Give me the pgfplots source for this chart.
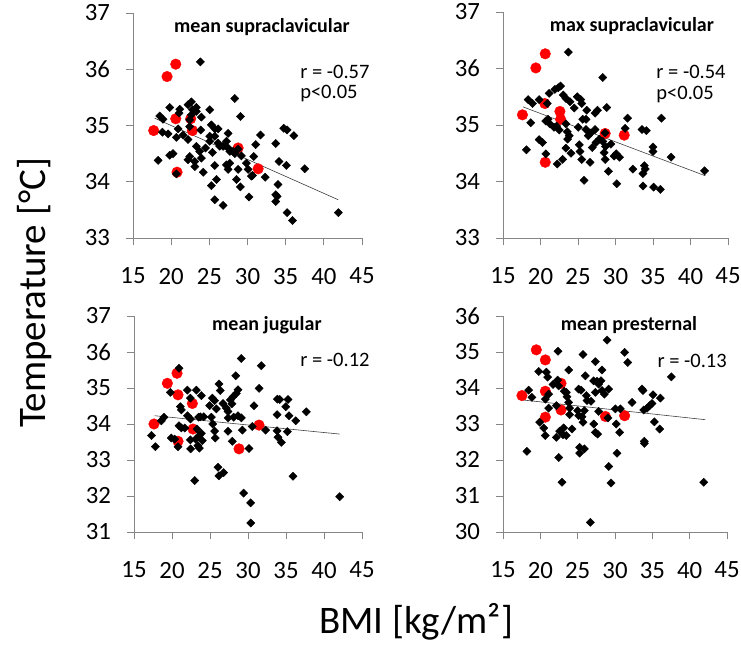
\documentclass[border=0pt]{standalone}
\usepackage{fontspec}
\setmainfont{Carlito}
\usepackage{pgfplots}
\pgfplotsset{compat=1.18}
\definecolor{axgray}{RGB}{134,134,134}
\definecolor{ptred}{RGB}{255,0,0}
\pgfplotsset{
  panel/.style={
    scale only axis, anchor=south west, clip=false,
    xmin=15, xmax=45, xtick={15,20,...,45},
    axis x line*=bottom, axis y line*=left,
    axis line style={axgray, line width=0.8pt, -},
    tick style={axgray, line width=0.8pt},
    tick align=outside, major tick length=7.5pt,
    ticklabel style={font=\fontsize{24.8}{26}\selectfont, text=black},
    xticklabel style={yshift=-19pt},
    yticklabel style={xshift=-12pt},
    /pgf/number format/assume math mode=true,
  },
  diam/.style={only marks, black, mark=square*, mark size=2.9pt,
    mark options={rotate=45, fill=black, draw=black}},
  redc/.style={only marks, ptred, mark=*, mark size=5.3pt,
    mark options={fill=ptred, draw=ptred}},
  trend/.style={no marks, black!75, line width=0.6pt},
}
\tikzset{
  ptitle/.style={font=\bfseries\fontsize{20}{22}\selectfont},
  rtext/.style={font=\fontsize{20.5}{22}\selectfont, anchor=west},
}
\begin{document}
\begin{tikzpicture}
\useasboundingbox (0,0) rectangle (741pt,650pt);

% mean supraclavicular
\begin{axis}[panel, at={(133pt,412pt)}, width=229pt, height=225pt,
  ymin=33, ymax=37, ytick={33,...,37}]
\addplot[redc] coordinates {(20.6,36.09)(19.46,35.87)(20.6,35.12)(22.56,35.12)(17.71,34.91)
  (22.78,34.91)(28.77,34.6)(31.39,34.23)(20.77,34.17)};
\addplot[diam] coordinates {
  (23.83,36.13)(28.33,35.48)(19.81,35.32)(21.12,35.29)(22.21,35.37)(22.65,35.42)(23.3,35.32)
  (21.03,35.22)(25.05,35.28)(23.96,35.15)(18.5,35.17)(18.93,35.11)(29.07,35.16)(18.85,34.88)
  (20.9,34.94)(21.56,34.83)(22.43,34.98)(23.87,34.92)(25.27,35.01)(25.71,34.94)(26.14,34.94)
  (25.05,34.81)(25.71,34.81)(20.68,34.79)(22.21,34.75)(23.3,34.63)(23.74,34.54)(23.96,34.42)
  (23.1,34.36)(22.43,34.45)(23.1,34.27)(24.2,34.17)(22.21,34.39)(18.28,34.38)(19.81,34.47)
  (20.24,34.5)(20.68,34.14)(25.05,34.72)(26.14,34.69)(26.36,34.63)(26.8,34.63)(27.24,34.72)
  (27.46,34.6)(27.68,34.54)(28.11,34.54)(28.33,34.5)(28.77,34.58)(27.46,34.86)(25.4,34.52)
  (25.71,34.29)(27.24,34.3)(27.46,34.22)(28.77,34.22)(29.2,34.46)(29.86,34.33)(30.08,34.22)
  (30.65,34.11)(30.5,34.1)(30.82,34.45)(31.08,34.66)(31.7,34.83)(32.31,34.08)(33.71,34.68)
  (34.14,34.36)(35.1,34.29)(34.75,34.95)(35.19,34.92)(36.07,34.82)(34.0,33.95)(33.7,33.77)
  (33.88,33.74)(33.7,33.65)(37.5,34.23)(35.19,33.45)(35.9,33.31)(41.9,33.45)(25.27,33.93)
  (25.93,34.04)(25.71,33.68)(26.8,33.58)(28.55,34.04)(29.07,33.91)(30.2,33.73)(27.68,34.33)
  (22.65,35.19)(22.8,35.28)(23.3,35.25)(22.43,35.1)(19.6,34.85)(24.5,34.6)};
\addplot[trend] coordinates {(17.84,35.13)(41.88,33.68)};
\node[ptitle] at (rel axis cs:0.563,0.938) {mean supraclavicular};
\node[rtext] at (rel axis cs:0.715,0.738) {r = -0.57};
\node[rtext] at (rel axis cs:0.715,0.64) {p<0.05};
\end{axis}

% max supraclavicular
\begin{axis}[panel, at={(503pt,412pt)}, width=225pt, height=226pt,
  ymin=33, ymax=37, ytick={33,...,37}]
\addplot[redc] coordinates {(20.63,36.26)(19.38,36.01)(20.58,35.38)(22.59,35.24)(22.68,35.1)
  (17.59,35.18)(28.62,34.85)(31.16,34.82)(20.63,34.34)};
\addplot[diam] coordinates {
  (23.71,36.29)(28.3,35.84)(18.35,35.45)(18.93,35.38)(19.82,35.45)(20.89,35.38)(21.16,35.56)
  (21.92,35.63)(22.37,35.66)(22.68,35.69)(23.04,35.53)(23.39,35.47)(23.93,35.41)(24.91,35.5)
  (25.36,35.45)(25.5,35.38)(25.63,35.1)(26.07,35.1)(26.16,35.26)(27.28,35.21)(27.59,35.26)
  (28.84,35.31)(31.61,35.12)(36.12,35.12)(18.71,35.04)(20.71,35.07)(21.25,35.02)(21.79,34.96)
  (22.14,34.98)(22.5,34.91)(23.39,35.02)(23.57,34.88)(23.84,34.81)(23.62,34.75)(25.04,34.96)
  (26.07,34.92)(26.38,34.81)(26.7,34.86)(27.41,34.69)(27.86,34.75)(28.3,34.71)(28.66,34.62)
  (27.28,34.92)(18.13,34.56)(19.82,34.74)(20.27,34.69)(20.71,34.49)(22.23,34.31)(22.95,34.39)
  (23.39,34.59)(24.06,34.5)(25.18,34.65)(25.27,34.53)(25.5,34.39)(26.61,34.34)(25.8,34.02)
  (28.48,34.51)(28.62,34.39)(29.06,34.18)(29.38,34.66)(29.82,34.45)(30.09,34.49)(30.54,34.43)
  (30.18,33.96)(31.29,34.94)(32.32,34.22)(33.53,34.92)(34.11,34.9)(35.0,34.61)(35.0,34.53)
  (33.84,34.28)(33.97,34.22)(33.66,34.14)(33.66,33.92)(35.09,33.9)(35.98,33.86)(37.41,34.43)
  (41.88,34.19)(28.62,34.86)(24.5,35.3)(26.9,34.6)(21.0,35.1)};
\addplot[trend] coordinates {(17.68,35.32)(42.0,34.1)};
\node[ptitle] at (rel axis cs:0.573,0.938) {max supraclavicular};
\node[rtext] at (rel axis cs:0.666,0.735) {r = -0.54};
\node[rtext] at (rel axis cs:0.666,0.637) {p<0.05};
\end{axis}

% mean jugular
\begin{axis}[panel, at={(134pt,118pt)}, width=228pt, height=216pt,
  ymin=31, ymax=37, ytick={31,...,37}]
\addplot[redc] coordinates {(20.66,35.41)(19.39,35.13)(20.79,34.81)(22.68,34.57)(17.63,34.0)
  (22.76,33.86)(20.79,33.52)(31.45,33.97)(28.82,33.31)};
\addplot[diam] coordinates {
  (29.12,35.82)(31.75,35.62)(20.92,35.55)(28.38,35.34)(26.18,35.11)(26.36,34.93)(28.68,34.95)
  (31.45,34.99)(19.78,34.88)(22.02,34.94)(23.2,34.94)(22.41,34.72)(23.86,34.79)(25.31,34.72)
  (25.61,34.65)(24.96,34.51)(25.83,34.42)(26.71,34.57)(27.15,34.44)(27.37,34.35)(27.68,34.67)
  (28.03,34.76)(28.46,34.85)(27.89,34.56)(21.1,34.48)(21.23,34.39)(22.04,34.23)(22.43,34.14)
  (23.51,34.19)(23.73,34.2)(24.17,34.2)(25.18,34.19)(25.36,34.0)(27.39,34.17)(28.12,34.19)
  (28.68,34.23)(29.12,34.17)(30.79,34.51)(33.86,34.69)(34.17,34.68)(35.26,34.68)(34.96,34.48)
  (33.82,34.26)(35.39,34.23)(36.27,34.09)(37.68,34.34)(18.6,34.09)(18.95,34.19)(17.3,33.68)
  (17.82,33.37)(19.9,33.61)(20.35,33.58)(20.79,33.37)(20.92,33.95)(21.23,33.89)(21.67,33.89)
  (22.41,33.56)(22.45,33.31)(23.11,33.58)(23.29,33.86)(23.6,33.68)(23.86,33.74)(23.99,33.54)
  (23.4,33.4)(23.6,33.33)(25.61,33.8)(25.7,33.61)(27.37,33.8)(27.94,33.52)(29.25,33.83)
  (30.13,33.32)(30.57,33.93)(32.32,33.83)(33.82,33.81)(33.95,33.63)(34.39,33.49)(35.18,33.79)
  (22.98,32.43)(26.05,32.8)(26.18,32.56)(26.8,32.65)(35.92,32.55)(29.43,32.08)(30.35,31.81)
  (30.35,31.25)(42.06,31.98)};
\addplot[trend] coordinates {(17.72,34.23)(42.06,33.72)};
\node[ptitle] at (rel axis cs:0.583,0.958) {mean jugular};
\node[rtext] at (rel axis cs:0.714,0.796) {r = -0.12};
\end{axis}

% mean presternal
\begin{axis}[panel, at={(503pt,118pt)}, width=224pt, height=216pt,
  ymin=30, ymax=36, ytick={30,...,36}]
\addplot[redc] coordinates {(19.46,35.06)(20.67,34.78)(22.77,34.13)(20.67,33.91)(17.54,33.79)
  (22.77,33.39)(20.67,33.19)(28.71,33.21)(31.29,33.23)};
\addplot[diam] coordinates {
  (28.93,35.33)(22.37,35.02)(25.71,34.93)(31.29,34.99)(31.7,34.71)(27.37,34.73)(28.26,34.5)
  (23.79,34.5)(19.78,34.46)(20.8,34.44)(20.98,34.3)(21.7,34.1)(22.32,34.22)(22.46,34.06)
  (26.03,34.34)(27.14,34.2)(27.59,34.19)(28.13,34.2)(27.81,34.11)(27.37,33.88)(28.26,33.93)
  (28.57,33.83)(29.15,33.97)(25.13,33.97)(25.45,33.94)(26.16,33.79)(26.25,33.65)(26.79,33.63)
  (23.48,33.88)(23.21,33.91)(23.57,33.76)(23.79,33.6)(23.93,33.44)(23.93,33.26)(18.44,33.94)
  (18.88,33.74)(21.12,33.83)(20.67,33.69)(21.12,33.44)(22.14,33.51)(25.0,33.37)(25.13,33.23)
  (25.58,33.2)(25.71,33.05)(25.89,33.37)(27.81,33.35)(27.14,33.0)(27.37,32.77)(27.68,32.72)
  (29.06,33.17)(30.04,33.42)(30.71,33.42)(30.18,33.0)(30.62,32.77)(32.28,33.6)(33.62,33.97)
  (33.75,33.93)(35.09,33.81)(34.96,33.57)(34.64,33.51)(34.29,33.44)(33.84,33.39)(36.07,33.72)
  (37.54,34.31)(35.27,33.06)(35.98,32.86)(19.91,33.05)(20.45,32.89)(20.67,32.68)(22.14,32.63)
  (22.59,32.8)(23.04,32.7)(23.48,32.68)(24.24,32.86)(23.12,32.89)(18.21,32.24)(22.46,32.07)
  (25.27,32.35)(25.89,32.31)(25.27,32.19)(30.27,32.19)(33.93,32.52)(33.93,32.46)(29.15,31.82)
  (22.9,31.38)(29.46,31.36)(41.88,31.38)(26.7,30.27)};
\addplot[trend] coordinates {(17.54,33.67)(42.1,33.12)};
\node[ptitle] at (rel axis cs:0.5625,0.958) {mean presternal};
\node[rtext] at (rel axis cs:0.674,0.79) {r = -0.13};
\end{axis}

\node[rotate=90, font=\fontsize{39}{42}\selectfont] at (35pt,357pt) {Temperature [°C]};
\node[font=\fontsize{39}{42}\selectfont] at (416pt,28pt) {BMI [kg/m²]};
\end{tikzpicture}
\end{document}
